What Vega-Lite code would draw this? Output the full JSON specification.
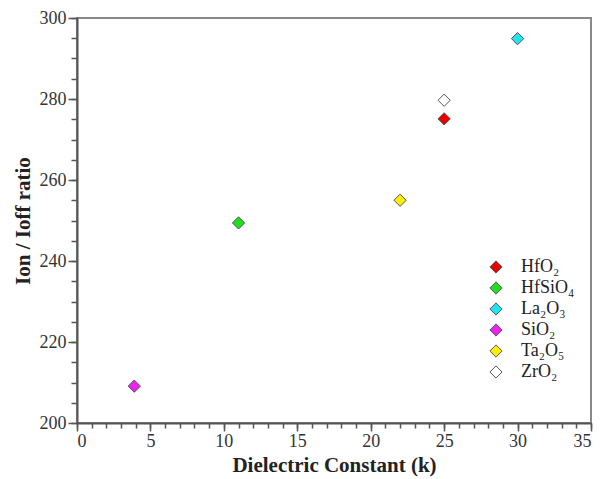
{
  "$schema": "https://vega.github.io/schema/vega-lite/v6.json",
  "width": 514,
  "height": 405,
  "autosize": {"type": "none"},
  "padding": {"left": 77, "top": 18, "right": 9, "bottom": 56},
  "background": "white",
  "config": {
    "view": {"stroke": "#888888", "strokeWidth": 2},
    "font": "Liberation Serif",
    "axis": {"grid": false}
  },
  "data": {
    "values": [
      {"material": "HfO₂", "k": 25, "ratio": 275.1},
      {"material": "HfSiO₄", "k": 11, "ratio": 249.4},
      {"material": "La₂O₃", "k": 30, "ratio": 294.9},
      {"material": "SiO₂", "k": 3.9, "ratio": 209.1},
      {"material": "Ta₂O₅", "k": 22, "ratio": 255.0},
      {"material": "ZrO₂", "k": 25, "ratio": 279.7}
    ]
  },
  "resolve": {"axis": {"x": "independent", "y": "independent"}},
  "layer": [
    {
      "mark": {"type": "point", "opacity": 0},
      "encoding": {
        "x": {"field": "k", "type": "quantitative", "scale": {"domain": [0, 35], "nice": false, "zero": false},
          "axis": {"orient": "bottom", "values": [0,1,2,3,4,5,6,7,8,9,10,11,12,13,14,15,16,17,18,19,20,21,22,23,24,25,26,27,28,29,30,31,32,33,34,35], "labels": false, "title": null, "domain": false, "tickSize": 5, "tickColor": "#555555", "tickWidth": 1.5}},
        "y": {"field": "ratio", "type": "quantitative", "scale": {"domain": [200, 300], "nice": false, "zero": false},
          "axis": {"orient": "left", "values": [200,205,210,215,220,225,230,235,240,245,250,255,260,265,270,275,280,285,290,295,300], "labels": false, "title": null, "domain": false, "tickSize": 6, "tickColor": "#555555", "tickWidth": 1.5}}
      }
    },
    {
      "mark": {"type": "point", "shape": "diamond", "filled": true, "size": 150, "stroke": "#555555", "strokeWidth": 1, "opacity": 1},
      "encoding": {
        "x": {"field": "k", "type": "quantitative", "scale": {"domain": [0, 35], "nice": false, "zero": false},
          "axis": {"orient": "bottom", "values": [0,5,10,15,20,25,30,35], "title": "Dielectric Constant (k)", "titleFont": "Liberation Serif", "titleFontSize": 21, "titleFontWeight": "bold", "titleColor": "#222222", "titlePadding": 4, "labelFont": "Liberation Serif", "labelFontSize": 18, "labelColor": "#333333", "labelPadding": 1, "tickSize": 8, "tickColor": "#555555", "tickWidth": 1.5, "domainColor": "#555555", "domainWidth": 2}},
        "y": {"field": "ratio", "type": "quantitative", "scale": {"domain": [200, 300], "nice": false, "zero": false},
          "axis": {"orient": "left", "values": [200,220,240,260,280,300], "title": "Ion / Ioff ratio", "titleFont": "Liberation Serif", "titleFontSize": 21, "titleFontWeight": "bold", "titleColor": "#222222", "titlePadding": 6, "labelFont": "Liberation Serif", "labelFontSize": 18, "labelColor": "#333333", "labelPadding": 2, "tickSize": 9, "tickColor": "#555555", "tickWidth": 1.5, "domainColor": "#555555", "domainWidth": 2}},
        "fill": {"field": "material", "type": "nominal",
          "scale": {"domain": ["HfO₂", "HfSiO₄", "La₂O₃", "SiO₂", "Ta₂O₅", "ZrO₂"], "range": ["#e80000", "#22dd22", "#22e4f0", "#ee22ee", "#ffee00", "#ffffff"]},
          "legend": {"orient": "none", "legendX": 410, "legendY": 240, "title": null, "symbolType": "diamond", "symbolSize": 150, "symbolStrokeColor": "#555555", "symbolStrokeWidth": 1, "labelFont": "Liberation Serif", "labelFontSize": 18, "labelColor": "#222222", "labelOffset": 16, "rowPadding": 3}}
      }
    }
  ]
}
